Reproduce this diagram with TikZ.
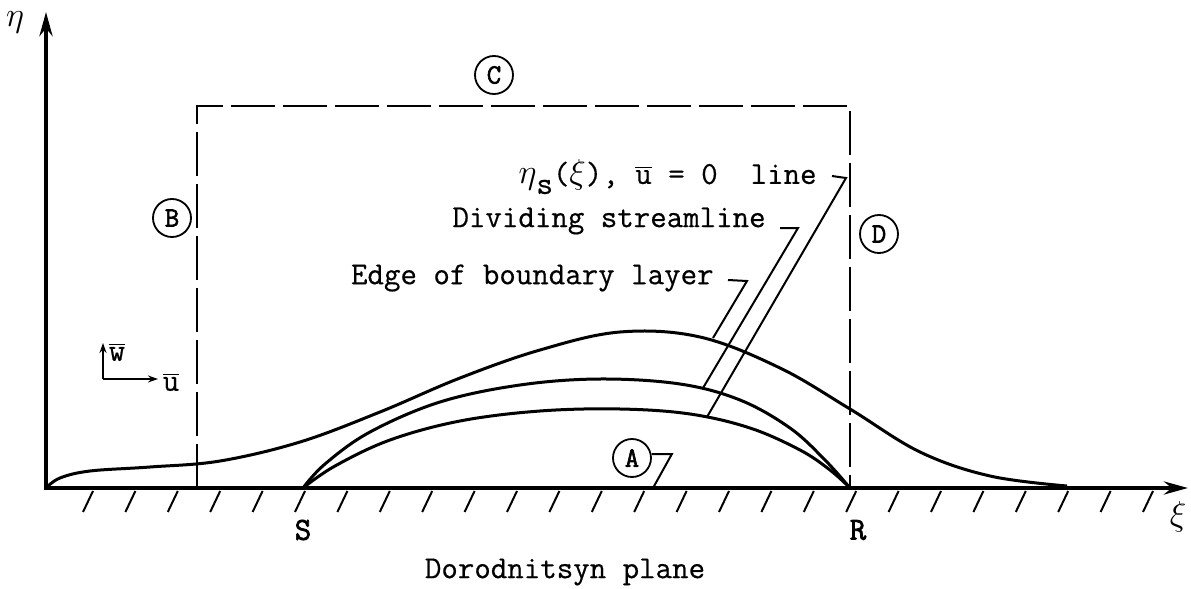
\documentclass[tikz,border=0pt]{standalone}
\usepackage{fontspec}
\setmonofont{Latin Modern Mono}[FakeBold=0.5, BoldFont={Latin Modern Mono}, BoldFeatures={FakeBold=2.2}]
\usetikzlibrary{positioning, arrows.meta}
\newcommand{\ovl}[1]{$\overline{\mbox{#1}}$}

\begin{document}
\begin{tikzpicture}[
		x=0.5pt, y=-0.5pt,
		txt/.style={font=\fontsize{16}{18}\selectfont\ttfamily, inner sep=0pt},
		bold/.style={font=\fontsize{16}{18}\selectfont\ttfamily\bfseries, inner sep=0pt},
		tag/.style={circle, draw, line width=0.9pt, minimum size=19pt, inner sep=0pt, font=\fontsize{14}{14}\selectfont\ttfamily\bfseries},
		axis/.style={line width=2pt, {Stealth[length=12pt, width=6.5pt]}-{Stealth[length=12pt, width=6.5pt]}},
		curve/.style={line width=1.5pt, smooth, tension=0.6},
		bound/.style={line width=1.2pt, dash pattern=on 22pt off 4pt},
		leader/.style={line width=1pt},
		hatch/.style={line width=1pt},
		vec/.style={line width=1pt, -{Stealth[length=5pt, width=3.5pt]}}
		]
		\useasboundingbox (0,0) rectangle (1191,589);
		
		% Points
		\coordinate (O) at (46,488);
		\coordinate (S) at (303,488);
		\coordinate (R) at (850,488);
		\coordinate (Ytop) at (46,12);
		\coordinate (Xend) at (1188,488);
		
		% Wall
		\foreach \k in {0,...,25}
		\draw[hatch] (93+42.4*\k,491) -- ++(-10,21);
		\draw[axis] (Ytop) -- (O) -- (Xend);
		
		% Control volume
		\draw[bound] (197,488) -- (197,106) -- (850,106) -- (850,488);
		
		% Curves
		\draw[curve] plot coordinates {(O) (60,478) (90,471) (150,467) (220,461) (300,442) (380,412) (460,378) (540,350) (620,332) (700,337) (780,368) (850,409) (920,452) (990,476) (1067,486)};
		\draw[curve] plot coordinates {(S) (325,464) (370,432) (440,402) (520,385) (600,379) (680,384) (740,400) (790,428) (825,460) (R)};
		\draw[curve] plot coordinates {(S) (335,466) (390,440) (460,421) (540,411) (620,409) (690,414) (750,428) (800,450) (830,470) (R)};
		
		% Nodes
		\node[txt, anchor=east] (etalbl) at (817,177) {$\eta$\raisebox{-5pt}{s}($\xi$), \ovl{u} = 0~~line};
		\node[txt, anchor=east] (divlbl) at (766,221) {Dividing streamline};
		\node[txt, anchor=east] (edgelbl) at (714,278) {Edge of boundary layer};
		\node[tag] (tagC) at (494,75) {C};
		\node[tag] (tagB) at (172,218) {B};
		\node[tag] (tagD) at (879,234) {D};
		\node[tag] (tagA) at (632,458) {A};
		\node[txt] (etaax) at (15,22) {$\eta$};
		\node[txt] (xiax) at (1178,517) {$\xi$};
		\node[bold] (Slbl) at (303,530) {S};
		\node[bold] (Rlbl) at (858,530) {R};
		\node[txt] (plane) at (565,572) {Dorodnitsyn plane};
		\node[txt] (wlbl) at (117,352) {\ovl{w}};
		\node[txt] (ulbl) at (171,382) {\ovl{u}};
		
		% Leaders
		\coordinate (etatip) at (707,417);
		\coordinate (divtip) at (703,388);
		\coordinate (edgetip) at (713,338);
		\coordinate (Atip) at (653,488);
		\draw[leader] (etalbl.east) ++(15,-1) -- ++(14,2) -- (etatip);
		\draw[leader] (divlbl.east) ++(14,7) -- ++(18,0) -- (divtip);
		\draw[leader] (edgelbl.east) ++(14,2) -- ++(19,1) -- (edgetip);
		\draw[leader] ([yshift=2pt]tagA.east) -- ++(20,0) -- (Atip);
		
		% Velocity components
		\coordinate (vo) at (103,379);
		\coordinate (wtip) at (103,343);
		\coordinate (utip) at (158,379);
		\draw[vec] (vo) -- (wtip);
		\draw[vec] (vo) -- (utip);
		
	\end{tikzpicture}
\end{document}
